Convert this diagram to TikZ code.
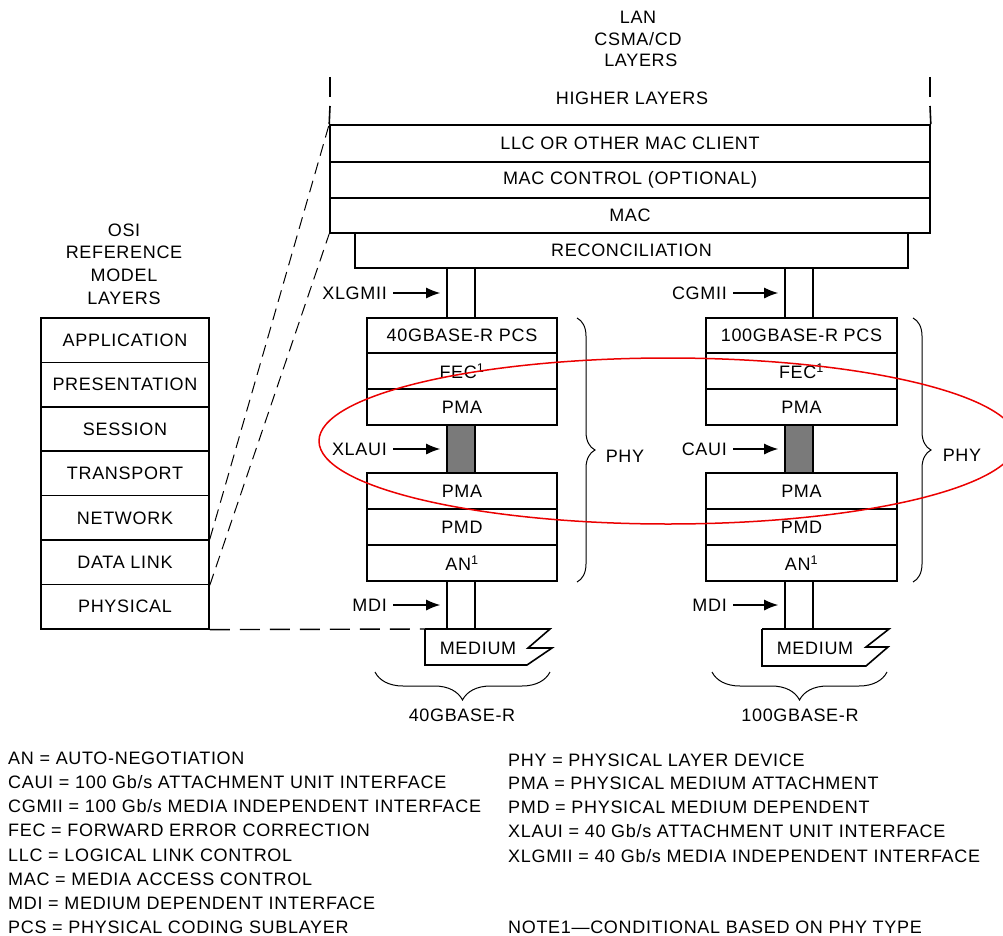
\documentclass[tikz,border=0pt]{standalone}
\usepackage{fontspec}
\setmainfont[LetterSpace=3.8]{Liberation Sans}
\usepackage{xcolor}
\usepackage{tikz}
\usetikzlibrary{arrows.meta,decorations.pathreplacing}
\definecolor{pipegrey}{RGB}{122,122,122}
\definecolor{ovalred}{RGB}{235,0,0}
\pgfdeclarelayer{edgelayer}
\pgfdeclarelayer{nodelayer}
\pgfsetlayers{edgelayer,nodelayer,main}
\tikzstyle{none}=[inner sep=0pt]
\tikzstyle{txt}=[inner sep=0pt]
\tikzstyle{layer}=[rectangle,draw=black,fill=white,line width=1.6pt,inner sep=0pt,minimum height=36pt]
\tikzstyle{maclayer}=[style=layer,minimum width=600pt]
\tikzstyle{phylayer}=[style=layer,minimum width=190pt]
\tikzstyle{osilayer}=[style=layer,minimum width=168pt,minimum height=44.4pt]
\tikzstyle{pipe}=[rectangle,draw=black,fill=white,line width=1.6pt,inner sep=0pt,minimum width=28pt,minimum height=48pt]
\tikzstyle{greypipe}=[style=pipe,fill=pipegrey]
\tikzstyle{inarrow}=[-{Latex[length=14pt,width=11pt]},line width=1.3pt,shorten <=6pt,shorten >=6pt]
\tikzstyle{simple}=[-,line width=1.6pt]
\tikzstyle{mapline}=[-,line width=1pt,dash pattern=on 12pt off 7pt]
\tikzstyle{floorline}=[-,line width=1.4pt,dash pattern=on 20pt off 10pt]
\tikzstyle{curly}=[-,line width=1pt,decorate,decoration={brace,amplitude=18pt}]
\tikzstyle{oval}=[draw=ovalred,line width=1.5pt]

\begin{document}
\begin{tikzpicture}[x=1pt,y=-1pt,font=\fontsize{18}{21.5}\selectfont]
	\useasboundingbox (0,0) rectangle (1003,936);
	\begin{pgfonlayer}{nodelayer}
		% LAN side
		\node [style=txt,align=center] (lan) at (638, 39) {LAN\\CSMA/CD\\\ LAYERS};
		\node [style=txt] (higher) at (632, 98) {HIGHER LAYERS};
		\node [style=none] (hltl) at (330, 77) {};
		\node [style=none] (hlml) at (330, 97) {};
		\node [style=none] (hlbl) at (330, 106) {};
		\node [style=none] (hltr) at (930, 77) {};
		\node [style=none] (hlmr) at (930, 97) {};
		\node [style=none] (hlbr) at (930, 106) {};
		\node [style=maclayer,minimum height=37pt] (llc) at (630, 143.5) {LLC OR OTHER MAC CLIENT};
		\node [style=maclayer] (macctl) at (630, 180) {MAC CONTROL (OPTIONAL)};
		\node [style=maclayer,minimum height=35pt] (mac) at (630, 215.5) {MAC};
		\node [style=layer,minimum width=553pt,minimum height=35pt] (recon) at (631.5, 250.5) {RECONCILIATION};

		% OSI side
		\node [style=txt,align=center,font=\fontsize{18}{22.7}\selectfont] (osi) at (124, 264) {OSI\\REFERENCE\\MODEL\\LAYERS};
		\node [style=osilayer] (application) at (125, 340.2) {APPLICATION};
		\node [style=osilayer] (presentation) at (125, 384.6) {PRESENTATION};
		\node [style=osilayer] (session) at (125, 429) {SESSION};
		\node [style=osilayer] (transport) at (125, 473.4) {TRANSPORT};
		\node [style=osilayer] (network) at (125, 517.8) {NETWORK};
		\node [style=osilayer] (datalink) at (125, 562.2) {DATA LINK};
		\node [style=osilayer] (physical) at (125, 606.6) {PHYSICAL};

		% 40GBASE-R
		\node [style=pipe,minimum height=50pt] (xlgmii) at (461, 293) {};
		\node [style=txt,anchor=east] (xlgmiitxt) at (387, 293) {XLGMII};
		\node [style=phylayer,minimum height=35pt] (pcsA) at (462, 335.5) {40GBASE-R PCS};
		\node [style=phylayer] (fecA) at (462, 371) {FEC\textsuperscript{1}};
		\node [style=phylayer] (pmaA) at (462, 407) {PMA};
		\node [style=greypipe] (xlaui) at (461, 449) {};
		\node [style=txt,anchor=east] (xlauitxt) at (387, 449) {XLAUI};
		\node [style=phylayer] (pmaB) at (462, 491) {PMA};
		\node [style=phylayer] (pmdA) at (462, 527) {PMD};
		\node [style=phylayer] (anA) at (462, 563) {AN\textsuperscript{1}};
		\node [style=pipe,minimum height=47pt] (mdiA) at (461, 605) {};
		\node [style=txt,anchor=east] (mditxtA) at (387, 605) {MDI};
		\node [style=none] (medA1) at (425, 629) {};
		\node [style=none] (medA2) at (550, 629) {};
		\node [style=none] (medA3) at (528, 648) {};
		\node [style=none] (medA4) at (552, 648) {};
		\node [style=none] (medA5) at (527, 665) {};
		\node [style=none] (medA6) at (425, 665) {};
		\node [style=txt] (mediumA) at (478, 648) {MEDIUM};
		\node [style=none] (phyAt) at (577, 318) {};
		\node [style=none] (phyAb) at (577, 582) {};
		\node [style=txt] (phyA) at (625, 456) {PHY};
		\node [style=none] (botAr) at (550, 672) {};
		\node [style=none] (botAl) at (375, 672) {};
		\node [style=txt] (fortyG) at (462, 715) {40GBASE-R};

		% 100GBASE-R
		\node [style=pipe,minimum height=50pt] (cgmii) at (799, 293) {};
		\node [style=txt,anchor=east] (cgmiitxt) at (727, 293) {CGMII};
		\node [style=phylayer,minimum width=191pt,minimum height=35pt] (pcsC) at (801.5, 335.5) {100GBASE-R PCS};
		\node [style=phylayer,minimum width=191pt] (fecC) at (801.5, 371) {FEC\textsuperscript{1}};
		\node [style=phylayer,minimum width=191pt] (pmaC) at (801.5, 407) {PMA};
		\node [style=greypipe] (caui) at (799, 449) {};
		\node [style=txt,anchor=east] (cauitxt) at (727, 449) {CAUI};
		\node [style=phylayer,minimum width=191pt] (pmaD) at (801.5, 491) {PMA};
		\node [style=phylayer,minimum width=191pt] (pmdC) at (801.5, 527) {PMD};
		\node [style=phylayer,minimum width=191pt] (anC) at (801.5, 563) {AN\textsuperscript{1}};
		\node [style=pipe,minimum height=47pt] (mdiC) at (799, 605) {};
		\node [style=txt,anchor=east] (mditxtC) at (727, 605) {MDI};
		\node [style=none] (medC1) at (762, 629) {};
		\node [style=none] (medC2) at (889, 629) {};
		\node [style=none] (medC3) at (866, 647) {};
		\node [style=none] (medC4) at (888, 647) {};
		\node [style=none] (medC5) at (866, 666) {};
		\node [style=none] (medC6) at (762, 666) {};
		\node [style=txt] (mediumC) at (815, 648) {MEDIUM};
		\node [style=none] (phyCt) at (913, 318) {};
		\node [style=none] (phyCb) at (913, 582) {};
		\node [style=txt] (phyC) at (962, 455) {PHY};
		\node [style=none] (botCr) at (887, 672) {};
		\node [style=none] (botCl) at (712, 672) {};
		\node [style=txt] (hundredG) at (800, 715) {100GBASE-R};

		% legend
		\node [style=txt,anchor=west] (keyan) at (8, 758) {AN = AUTO-NEGOTIATION};
		\node [style=txt,anchor=west] (keycaui) at (8, 782) {CAUI = 100 Gb/s ATTACHMENT UNIT INTERFACE};
		\node [style=txt,anchor=west] (keycgmii) at (8, 806) {CGMII = 100 Gb/s MEDIA INDEPENDENT INTERFACE};
		\node [style=txt,anchor=west] (keyfec) at (8, 830) {FEC = FORWARD ERROR CORRECTION};
		\node [style=txt,anchor=west] (keyllc) at (8, 855) {LLC = LOGICAL LINK CONTROL};
		\node [style=txt,anchor=west] (keymac) at (8, 879) {MAC = MEDIA ACCESS CONTROL};
		\node [style=txt,anchor=west] (keymdi) at (8, 903) {MDI = MEDIUM DEPENDENT INTERFACE};
		\node [style=txt,anchor=west] (keypcs) at (8, 927) {PCS = PHYSICAL CODING SUBLAYER};
		\node [style=txt,anchor=west] (keyphy) at (508, 760) {PHY = PHYSICAL LAYER DEVICE};
		\node [style=txt,anchor=west] (keypma) at (508, 783) {PMA = PHYSICAL MEDIUM ATTACHMENT};
		\node [style=txt,anchor=west] (keypmd) at (508, 807) {PMD = PHYSICAL MEDIUM DEPENDENT};
		\node [style=txt,anchor=west] (keyxlaui) at (508, 831) {XLAUI = 40 Gb/s ATTACHMENT UNIT INTERFACE};
		\node [style=txt,anchor=west] (keyxlgmii) at (508, 856) {XLGMII = 40 Gb/s MEDIA INDEPENDENT INTERFACE};
		\node [style=txt,anchor=west] (keynote) at (508, 927) {NOTE1---CONDITIONAL BASED ON PHY TYPE};
	\end{pgfonlayer}
	\begin{pgfonlayer}{edgelayer}
		\draw [style=simple] (hltl.center) to (hlml.center);
		\draw [style=simple] (hlbl.center) to (llc.north west);
		\draw [style=simple] (hltr.center) to (hlmr.center);
		\draw [style=simple] (hlbr.center) to (llc.north east);
		\draw [style=mapline] (datalink.north east) to (llc.north west);
		\draw [style=mapline] (datalink.south east) to (mac.south west);
		\draw [style=floorline] (physical.south east) to (medA1.center);
		\draw [style=simple] (medA1.center) to (medA2.center) to (medA3.center) to (medA4.center) to (medA5.center) to (medA6.center) to (medA1.center);
		\draw [style=simple] (medC1.center) to (medC2.center) to (medC3.center) to (medC4.center) to (medC5.center) to (medC6.center) to (medC1.center);
		\draw [style=inarrow] (xlgmiitxt) to (xlgmii);
		\draw [style=inarrow] (xlauitxt) to (xlaui);
		\draw [style=inarrow] (mditxtA) to (mdiA);
		\draw [style=inarrow] (cgmiitxt) to (cgmii);
		\draw [style=inarrow] (cauitxt) to (caui);
		\draw [style=inarrow] (mditxtC) to (mdiC);
		\draw [style=curly] (phyAt.center) to (phyAb.center);
		\draw [style=curly] (phyCt.center) to (phyCb.center);
		\draw [style=curly,decoration={amplitude=28pt}] (botAr.center) to (botAl.center);
		\draw [style=curly,decoration={amplitude=28pt}] (botCr.center) to (botCl.center);
	\end{pgfonlayer}
	\draw [style=oval] (668, 441) ellipse (349pt and 83pt);
\end{tikzpicture}
\end{document}
